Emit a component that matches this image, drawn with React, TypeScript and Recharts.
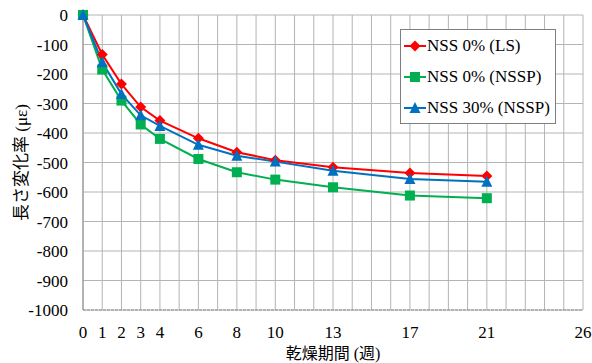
import React from 'react';
import { LineChart, Line, XAxis, YAxis, CartesianGrid, Legend } from 'recharts';

const weeks = [0, 1, 2, 3, 4, 6, 8, 10, 13, 17, 21];
const nss0LS = [0, -134, -234, -312, -358, -418, -465, -492, -516, -536, -546];
const nss0NSSP = [0, -185, -290, -371, -420, -488, -533, -558, -584, -612, -621];
const nss30NSSP = [0, -160, -268, -340, -376, -440, -477, -497, -528, -556, -565];
const xTickLabels = [0, 1, 2, 3, 4, 6, 8, 10, 13, 17, 21, 26];
const xGridTicks = Array.from({ length: 27 }, (_, i) => i);
const yTicks = [0, -100, -200, -300, -400, -500, -600, -700, -800, -900, -1000];

const seriesNames = ['NSS 0% (LS)', 'NSS 0% (NSSP)', 'NSS 30% (NSSP)'];
const colors = ['#ff0000', '#00b050', '#0070c0'];

const data = weeks.map((w, i) => ({
  week: w,
  a: nss0LS[i],
  b: nss0NSSP[i],
  c: nss30NSSP[i],
}));

const FONT = '"Liberation Serif", "Times New Roman", serif';
const JFONT = '"Liberation Serif", "Noto Sans CJK JP", serif';

const Diamond = (props: any) => {
  const { cx, cy, fill } = props;
  if (cx == null || cy == null) return null;
  return <polygon points={`${cx},${cy - 5.5} ${cx + 5.5},${cy} ${cx},${cy + 5.5} ${cx - 5.5},${cy}`} fill={fill} />;
};
const Square = (props: any) => {
  const { cx, cy, fill } = props;
  if (cx == null || cy == null) return null;
  return <rect x={cx - 5} y={cy - 5} width={10} height={10} fill={fill} />;
};
const Triangle = (props: any) => {
  const { cx, cy, fill } = props;
  if (cx == null || cy == null) return null;
  return <polygon points={`${cx},${cy - 6} ${cx + 5.5},${cy + 5} ${cx - 5.5},${cy + 5}`} fill={fill} />;
};

const shapes = [Diamond, Square, Triangle];

const LegendBox = () => (
  <div
    style={{
      width: 156,
      height: 95,
      border: '1px solid #7f7f7f',
      background: '#fff',
      boxSizing: 'border-box',
      fontFamily: FONT,
      fontSize: 17,
      color: '#000',
      paddingTop: 0,
      textAlign: 'left',
    }}
  >
    {seriesNames.map((n, i) => {
      const S = shapes[i];
      return (
        <div key={n} style={{ display: 'flex', alignItems: 'center', height: 31.3 }}>
          <svg width={27} height={16} style={{ marginLeft: 3, flex: 'none' }}>
            <line x1={0} y1={8} x2={22} y2={8} stroke={colors[i]} strokeWidth={2} />
            <S cx={11} cy={8} fill={colors[i]} />
          </svg>
          <span style={{ marginLeft: -4, whiteSpace: 'nowrap' }}>{n}</span>
        </div>
      );
    })}
  </div>
);

const YLabel = (props: any) => {
  const vb = props.viewBox || {};
  const cy = vb.y + vb.height / 2;
  const cx = 21;
  return (
    <text
      x={cx}
      y={cy}
      transform={`rotate(-90, ${cx}, ${cy})`}
      textAnchor="middle"
      dominantBaseline="central"
      fontFamily={JFONT}
      fontSize={17}
      fill="#000"
    >
      長さ変化率 (με)
    </text>
  );
};

export default function App() {
  return (
    <div style={{ position: 'absolute', left: 0, top: 0, background: '#fff' }}>
      <LineChart width={592} height={363} data={data} margin={{ top: 15, right: 9, left: 0, bottom: 0 }}>
        <CartesianGrid stroke="#b4b4b4" strokeWidth={1} />
        <XAxis
          dataKey="week"
          type="number"
          domain={[0, 26]}
          ticks={xGridTicks}
          interval={0}
          tickFormatter={(v: number) => (xTickLabels.includes(v) ? String(v) : '')}
          tick={{ fill: '#000', fontFamily: FONT, fontSize: 17 }}
          tickLine={false}
          tickSize={14}
          axisLine={{ stroke: '#8c8c8c', strokeDasharray: '3 1' }}
          height={53}
          label={{ value: '乾燥期間 (週)', position: 'insideBottom', offset: 4, fill: '#000', fontFamily: JFONT, fontSize: 16 }}
        />
        <YAxis
          type="number"
          domain={[-1000, 0]}
          ticks={yTicks}
          interval={0}
          width={83}
          tick={{ fill: '#000', fontFamily: FONT, fontSize: 17 }}
          tickLine={false}
          tickSize={13}
          axisLine={{ stroke: '#8c8c8c' }}
          label={<YLabel />}
        />
        <Legend
          content={<LegendBox />}
          layout="horizontal"
          verticalAlign="middle"
          align="center"
          wrapperStyle={{ position: 'absolute', left: 400, top: 29, width: 156, height: 95 }}
        />
        <Line dataKey="a" name={seriesNames[0]} stroke={colors[0]} strokeWidth={2} type="linear" dot={<Diamond fill={colors[0]} />} isAnimationActive={false} />
        <Line dataKey="b" name={seriesNames[1]} stroke={colors[1]} strokeWidth={2} type="linear" dot={<Square fill={colors[1]} />} isAnimationActive={false} />
        <Line dataKey="c" name={seriesNames[2]} stroke={colors[2]} strokeWidth={2} type="linear" dot={<Triangle fill={colors[2]} />} isAnimationActive={false} />
      </LineChart>
    </div>
  );
}
